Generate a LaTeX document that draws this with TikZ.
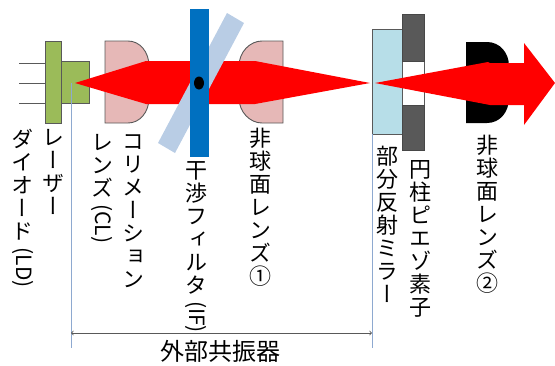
\documentclass[tikz,border=0pt]{standalone}
\usepackage{fontspec}
\usepackage{graphicx}
\newfontfamily\tatefont[Vertical=Alternates]{Noto Sans CJK JP}
\newfontfamily\yokofont{Noto Sans CJK JP}
\newcommand{\latinpart}[1]{\raisebox{15pt}{\rotatebox{-90}{\yokofont\fontsize{21}{21}\selectfont #1}}}
\definecolor{ldgreen}{HTML}{9BBB59}
\definecolor{lenspink}{HTML}{E6B8B7}
\definecolor{platelight}{HTML}{B9CDE5}
\definecolor{filterblue}{HTML}{0070C0}
\definecolor{mirrorblue}{HTML}{B7DEE8}
\definecolor{piezogray}{HTML}{595959}
\definecolor{edgegray}{HTML}{595959}
\definecolor{guideblue}{HTML}{8EA9D0}
\tikzset{
  partbox/.style={draw=edgegray,line width=0.9pt},
  guide/.style={draw=guideblue,line width=0.9pt},
  tatelabel/.style={anchor=north,inner sep=0pt,align=center,font=\tatefont\fontsize{22}{23}\selectfont},
}
\begin{document}
\begin{tikzpicture}[x=1pt,y=-1pt]
\useasboundingbox (0,0) rectangle (555,365);

% laser diode
\foreach \leady in {63,83,103}
  \draw[edgegray,line width=0.7pt] (19,\leady) -- (45,\leady);
\path[partbox,fill=ldgreen] (45,41) rectangle (61,123);
\path[partbox,fill=ldgreen] (61,61) rectangle (89,103);

% lenses
\path[partbox,fill=lenspink] (105,41) -- (128,41) .. controls (140,41) and (149,52) .. (149,66)
  -- (149,98) .. controls (149,112) and (140,123) .. (128,123) -- (105,123) -- cycle;
\path[partbox,fill=lenspink] (283,41) -- (262,41) .. controls (250,41) and (239,52) .. (239,66)
  -- (239,98) .. controls (239,112) and (250,123) .. (262,123) -- (283,123) -- cycle;
\path[fill=black] (466,42) -- (487,42) .. controls (500,42) and (509,53) .. (509,66)
  -- (509,98) .. controls (509,112) and (500,123) .. (487,123) -- (466,123) -- cycle;

% mirror and piezo
\path[partbox,fill=mirrorblue] (372,29) rectangle (402,134);
\path[draw=piezogray,line width=0.9pt,fill=white] (402,60) rectangle (424,106);
\path[draw=edgegray!80!black,line width=0.9pt,fill=piezogray] (402,14) rectangle (424,61);
\path[draw=edgegray!80!black,line width=0.9pt,fill=piezogray] (402,105) rectangle (424,150);

% beams
\fill[red] (75,83) -- (146,61) -- (255,61) -- (370,83) -- (255,104) -- (146,104) -- cycle;
\fill[red] (375,83) -- (488,62) -- (490,63) -- (524,63) -- (524,43) -- (555,83)
  -- (524,125) -- (524,105) -- (490,105) -- cycle;

% interference filter
\fill[platelight] (227,13) -- (244,23) -- (175,153) -- (158,143) -- cycle;
\path[fill=filterblue] (190,9) rectangle (209,157);
\fill[black] (199,83) ellipse (5 and 6.5);

% cavity
\coordinate (ldend) at (71,83);
\coordinate (ldfoot) at (71,348);
\coordinate (mirrorend) at (372,134);
\coordinate (mirrorfoot) at (372,348);
\coordinate (cavl) at (71,333);
\coordinate (cavr) at (372,333);
\path[guide] (ldend) -- (ldfoot);
\path[guide] (mirrorend) -- (mirrorfoot);
\draw[<->,edgegray,line width=0.8pt] (cavl) -- (cavr);
\node[inner sep=0pt,font=\yokofont\fontsize{24}{24}\selectfont] (cavlabel) at (220,351) {外部共振器};

% labels
\node[tatelabel] (ldb) at (23,129) {ダ\\イ\\オ\\ー\\ド\\\latinpart{(LD)}};
\node[tatelabel] (lda) at (53,129) {レ\\ー\\ザ\\ー};
\node[tatelabel] (clb) at (102,134) {レ\\ン\\ズ\\\latinpart{(CL)}};
\node[tatelabel] (cla) at (133,134) {コ\\リ\\メ\\ー\\シ\\ョ\\ン};
\node[tatelabel] (iflabel) at (196,161) {干\\渉\\フ\\ィ\\ル\\タ\\\latinpart{(IF)}};
\node[tatelabel] (asphone) at (260,128) {非\\球\\面\\レ\\ン\\ズ\\①};
\node[tatelabel] (mirrorlabel) at (387,146) {部\\分\\反\\射\\ミ\\ラ\\ー};
\node[tatelabel] (piezolabel) at (420,160) {円\\柱\\ピ\\エ\\ゾ\\素\\子};
\node[tatelabel] (asphtwo) at (487,135) {非\\球\\面\\レ\\ン\\ズ\\②};
\end{tikzpicture}
\end{document}
